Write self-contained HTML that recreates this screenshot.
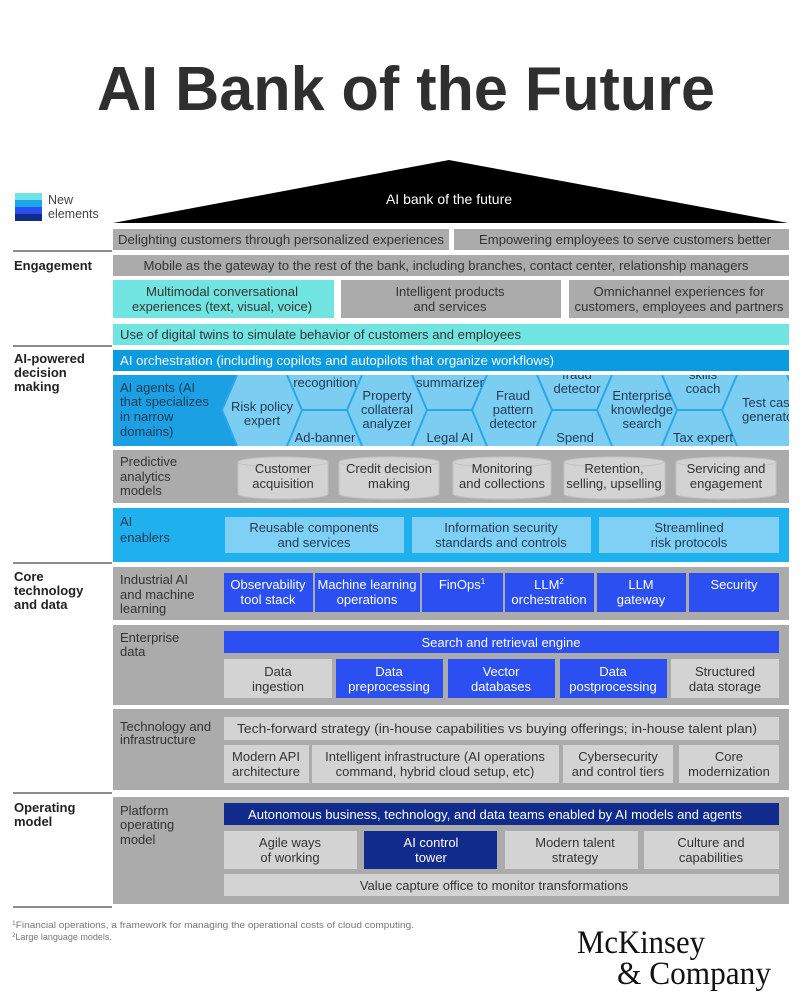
<!DOCTYPE html>
<html><head><meta charset="utf-8"><style>
html,body{margin:0;padding:0;background:#fff;width:800px;height:1000px;overflow:hidden}
svg{display:block}
text{font-family:"Liberation Sans",Arial,sans-serif}
</style></head><body>
<svg width="800" height="1000" viewBox="0 0 800 1000" xmlns="http://www.w3.org/2000/svg">
<defs><clipPath id="agc"><rect x="113" y="375" width="676" height="71"/></clipPath></defs>
<!-- Title -->
<text x="406" y="110" text-anchor="middle" font-size="62" font-weight="bold" fill="#2f2f2f" textLength="618" lengthAdjust="spacingAndGlyphs">AI Bank of the Future</text>
<!-- legend -->
<rect x="15" y="193" width="27" height="7" fill="#72e4e6"/>
<rect x="15" y="200" width="27" height="7" fill="#1aa6e8"/>
<rect x="15" y="207" width="27" height="7" fill="#2a4ff0"/>
<rect x="15" y="214" width="27" height="7" fill="#112b8c"/>
<text x="48" y="204" font-size="12.5" fill="#444">New</text>
<text x="48" y="218" font-size="12.5" fill="#444">elements</text>
<!-- roof -->
<polygon points="113,223 449,160 788,223" fill="#000"/>
<text x="449" y="204" text-anchor="middle" font-size="14" fill="#fff">AI bank of the future</text>
<!-- dividers -->
<g stroke="#666" stroke-width="1.5">
<line x1="13" y1="251" x2="112" y2="251"/><line x1="13" y1="346" x2="112" y2="346"/>
<line x1="13" y1="563" x2="112" y2="563"/><line x1="13" y1="793" x2="112" y2="793"/>
<line x1="13" y1="907" x2="112" y2="907"/></g>
<g font-size="13" font-weight="bold" fill="#222">
<text x="14" y="270">Engagement</text>
<text x="14" y="363">AI-powered</text><text x="14" y="377">decision</text><text x="14" y="391">making</text>
<text x="14" y="581">Core</text><text x="14" y="595">technology</text><text x="14" y="609">and data</text>
<text x="14" y="812">Operating</text><text x="14" y="826">model</text>
</g>
<g font-size="13" fill="#333" text-anchor="middle">
<!-- row1 -->
<rect x="113" y="229" width="336" height="21" fill="#ababab"/>
<rect x="454" y="229" width="335" height="21" fill="#ababab"/>
<text x="281" y="244" textLength="326" lengthAdjust="spacingAndGlyphs">Delighting customers through personalized experiences</text>
<text x="625" y="244" textLength="292" lengthAdjust="spacingAndGlyphs">Empowering employees to serve customers better</text>
<!-- row2 -->
<rect x="113" y="255" width="676" height="21" fill="#ababab"/>
<text x="446" y="270" textLength="605" lengthAdjust="spacingAndGlyphs">Mobile as the gateway to the rest of the bank, including branches, contact center, relationship managers</text>
<!-- row3 -->
<rect x="113" y="280" width="221" height="38" fill="#70e4e0"/>
<rect x="341" y="280" width="220" height="38" fill="#ababab"/>
<rect x="569" y="280" width="220" height="38" fill="#ababab"/>
<text x="222" y="296" textLength="152" lengthAdjust="spacingAndGlyphs">Multimodal conversational</text>
<text x="222" y="311" textLength="180" lengthAdjust="spacingAndGlyphs">experiences (text, visual, voice)</text>
<text x="450" y="296">Intelligent products</text>
<text x="450" y="311">and services</text>
<text x="679" y="296" textLength="171" lengthAdjust="spacingAndGlyphs">Omnichannel experiences for</text>
<text x="679" y="311" textLength="209" lengthAdjust="spacingAndGlyphs">customers, employees and partners</text>
<!-- row4 -->
<rect x="113" y="324" width="676" height="21" fill="#70e4e0"/>
<text x="120" y="339" text-anchor="start" textLength="401" lengthAdjust="spacingAndGlyphs">Use of digital twins to simulate behavior of customers and employees</text>
<!-- row5 -->
<rect x="113" y="350" width="676" height="21" fill="#0a9be0"/>
<text x="120" y="365" text-anchor="start" fill="#fff" textLength="434" lengthAdjust="spacingAndGlyphs">AI orchestration (including copilots and autopilots that organize workflows)</text>
</g>
<!-- row6 agents -->
<rect x="113" y="375" width="676" height="71" fill="#7ccdf2"/>
<polygon points="113,375 237,375 222,410 237,446 113,446" fill="#1aa0e3"/>
<g clip-path="url(#agc)" stroke="#2aa7e8" stroke-width="2" fill="none">
<path d="M237,375 L222,410 L237,446 M287,375 L302,410 L287,446 M302,410 L347,410
M362,375 L347,410 L362,446 M412,375 L427,410 L412,446 M427,410 L472,410
M487,375 L472,410 L487,446 M537,375 L552,410 L537,446 M552,410 L597,410
M612,375 L597,410 L612,446 M662,375 L677,410 L662,446 M677,410 L722,410
M737,375 L722,410 L737,446 M787,375 L802,410"/>
</g>
<g clip-path="url(#agc)" font-size="13" fill="#1d3a55" text-anchor="middle">
<text x="262" y="411">Risk policy</text><text x="262" y="425">expert</text>
<text x="325" y="387">recognition</text><text x="325" y="442">Ad-banner</text>
<text x="387" y="400">Property</text><text x="387" y="414">collateral</text><text x="387" y="428">analyzer</text>
<text x="450" y="387">summarizer</text><text x="450" y="442">Legal AI</text>
<text x="513" y="400">Fraud</text><text x="513" y="414">pattern</text><text x="513" y="428">detector</text>
<text x="577" y="379">fraud</text><text x="577" y="393">detector</text><text x="575" y="442">Spend</text>
<text x="642" y="400">Enterprise</text><text x="642" y="414">knowledge</text><text x="642" y="428">search</text>
<text x="703" y="379">skills</text><text x="703" y="393">coach</text><text x="703" y="442">Tax expert</text>
<text x="742" y="407" text-anchor="start">Test case</text><text x="742" y="421" text-anchor="start">generator</text>
</g>
<g font-size="13" fill="#1d3a55">
<text x="120" y="392">AI agents (AI</text><text x="120" y="406">that specializes</text><text x="120" y="421">in narrow</text><text x="120" y="436">domains)</text>
</g>
<!-- row7 predictive -->
<rect x="113" y="450" width="676" height="53" fill="#ababab"/>
<g fill="#d3d3d3" stroke="#c2c2c2" stroke-width="1">
<path d="M238,462 L238,494 A45,5 0 0 0 328,494 L328,462 Z"/><ellipse cx="283" cy="462" rx="45" ry="5"/>
<path d="M339,462 L339,494 A50,5 0 0 0 439,494 L439,462 Z"/><ellipse cx="389" cy="462" rx="50" ry="5"/>
<path d="M453,462 L453,494 A49,5 0 0 0 551,494 L551,462 Z"/><ellipse cx="502" cy="462" rx="49" ry="5"/>
<path d="M564,462 L564,494 A50,5 0 0 0 665,494 L665,462 Z"/><ellipse cx="614" cy="462" rx="50" ry="5"/>
<path d="M676,462 L676,494 A50,5 0 0 0 776,494 L776,462 Z"/><ellipse cx="726" cy="462" rx="50" ry="5"/>
</g>
<g font-size="13" fill="#333" text-anchor="middle">
<text x="283" y="473">Customer</text><text x="283" y="488">acquisition</text>
<text x="389" y="473">Credit decision</text><text x="389" y="488">making</text>
<text x="502" y="473">Monitoring</text><text x="502" y="488">and collections</text>
<text x="614" y="473">Retention,</text><text x="614" y="488">selling, upselling</text>
<text x="726" y="473">Servicing and</text><text x="726" y="488">engagement</text>
</g>
<g font-size="13" fill="#333"><text x="120" y="466">Predictive</text><text x="120" y="481">analytics</text><text x="120" y="495">models</text></g>
<!-- row8 enablers -->
<rect x="113" y="508" width="676" height="54" fill="#1fb1ee"/>
<rect x="225" y="517" width="179" height="36" fill="#7fd0f4"/>
<rect x="412" y="517" width="179" height="36" fill="#7fd0f4"/>
<rect x="599" y="517" width="180" height="36" fill="#7fd0f4"/>
<g font-size="13" fill="#1d3a55" text-anchor="middle">
<text x="314" y="532">Reusable components</text><text x="314" y="547">and services</text>
<text x="501" y="532">Information security</text><text x="501" y="547">standards and controls</text>
<text x="689" y="532">Streamlined</text><text x="689" y="547">risk protocols</text>
</g>
<g font-size="13" fill="#1d3a55"><text x="120" y="526">AI</text><text x="120" y="542">enablers</text></g>
<!-- row9 industrial -->
<rect x="113" y="567" width="676" height="53" fill="#ababab"/>
<g fill="#2b4ff0">
<rect x="224" y="573" width="89" height="39"/><rect x="315" y="573" width="105" height="39"/>
<rect x="422" y="573" width="81" height="39"/><rect x="505" y="573" width="89" height="39"/>
<rect x="597" y="573" width="89" height="39"/><rect x="689" y="573" width="90" height="39"/>
</g>
<g font-size="13" fill="#fff" text-anchor="middle">
<text x="268" y="589">Observability</text><text x="268" y="604">tool stack</text>
<text x="367" y="589">Machine learning</text><text x="367" y="604">operations</text>
<text x="462" y="589">FinOps<tspan font-size="8" dy="-5">1</tspan></text>
<text x="549" y="589">LLM<tspan font-size="8" dy="-5">2</tspan></text><text x="549" y="604">orchestration</text>
<text x="641" y="589">LLM</text><text x="641" y="604">gateway</text>
<text x="734" y="589">Security</text>
</g>
<g font-size="13" fill="#333"><text x="120" y="584">Industrial AI</text><text x="120" y="599">and machine</text><text x="120" y="613">learning</text></g>
<!-- row10 enterprise -->
<rect x="113" y="625" width="676" height="80" fill="#ababab"/>
<rect x="224" y="631" width="555" height="22" fill="#2b4ff0"/>
<text x="501" y="647" font-size="13" fill="#fff" text-anchor="middle">Search and retrieval engine</text>
<rect x="224" y="659" width="108" height="39" fill="#d3d3d3"/>
<rect x="336" y="659" width="107" height="39" fill="#2b4ff0"/>
<rect x="448" y="659" width="107" height="39" fill="#2b4ff0"/>
<rect x="560" y="659" width="107" height="39" fill="#2b4ff0"/>
<rect x="671" y="659" width="108" height="39" fill="#d3d3d3"/>
<g font-size="13" text-anchor="middle">
<text x="278" y="676" fill="#333">Data</text><text x="278" y="691" fill="#333">ingestion</text>
<text x="389" y="676" fill="#fff">Data</text><text x="389" y="691" fill="#fff">preprocessing</text>
<text x="501" y="676" fill="#fff">Vector</text><text x="501" y="691" fill="#fff">databases</text>
<text x="613" y="676" fill="#fff">Data</text><text x="613" y="691" fill="#fff">postprocessing</text>
<text x="725" y="676" fill="#333">Structured</text><text x="725" y="691" fill="#333">data storage</text>
</g>
<g font-size="13" fill="#333"><text x="120" y="642">Enterprise</text><text x="120" y="656">data</text></g>
<!-- row11 tech -->
<rect x="113" y="709" width="676" height="81" fill="#ababab"/>
<rect x="224" y="717" width="555" height="23" fill="#d3d3d3"/>
<text x="497" y="733" font-size="13" fill="#333" text-anchor="middle" textLength="520" lengthAdjust="spacingAndGlyphs">Tech-forward strategy (in-house capabilities vs buying offerings; in-house talent plan)</text>
<rect x="224" y="745" width="85" height="38" fill="#d3d3d3"/>
<rect x="312" y="745" width="247" height="38" fill="#d3d3d3"/>
<rect x="563" y="745" width="110" height="38" fill="#d3d3d3"/>
<rect x="679" y="745" width="100" height="38" fill="#d3d3d3"/>
<g font-size="13" fill="#333" text-anchor="middle">
<text x="266" y="761">Modern API</text><text x="266" y="776">architecture</text>
<text x="435" y="761">Intelligent infrastructure (AI operations</text><text x="435" y="776">command, hybrid cloud setup, etc)</text>
<text x="618" y="761">Cybersecurity</text><text x="618" y="776">and control tiers</text>
<text x="729" y="761">Core</text><text x="729" y="776">modernization</text>
</g>
<g font-size="13" fill="#333"><text x="120" y="731">Technology and</text><text x="120" y="744">infrastructure</text></g>
<!-- row12 platform -->
<rect x="113" y="797" width="676" height="107" fill="#ababab"/>
<rect x="224" y="803" width="555" height="22" fill="#112b8c"/>
<text x="495" y="819" font-size="13" fill="#fff" text-anchor="middle" textLength="494" lengthAdjust="spacingAndGlyphs">Autonomous business, technology, and data teams enabled by AI models and agents</text>
<rect x="224" y="831" width="133" height="38" fill="#d3d3d3"/>
<rect x="364" y="831" width="133" height="38" fill="#112b8c"/>
<rect x="505" y="831" width="133" height="38" fill="#d3d3d3"/>
<rect x="644" y="831" width="135" height="38" fill="#d3d3d3"/>
<g font-size="13" text-anchor="middle">
<text x="290" y="847" fill="#333">Agile ways</text><text x="290" y="862" fill="#333">of working</text>
<text x="431" y="847" fill="#fff">AI control</text><text x="431" y="862" fill="#fff">tower</text>
<text x="575" y="847" fill="#333">Modern talent</text><text x="575" y="862" fill="#333">strategy</text>
<text x="711" y="847" fill="#333">Culture and</text><text x="711" y="862" fill="#333">capabilities</text>
</g>
<rect x="224" y="874" width="555" height="22" fill="#d3d3d3"/>
<text x="494" y="890" font-size="13" fill="#333" text-anchor="middle">Value capture office to monitor transformations</text>
<g font-size="13" fill="#333"><text x="120" y="815">Platform</text><text x="120" y="829">operating</text><text x="120" y="844">model</text></g>
<!-- footnotes -->
<g font-size="9" fill="#777">
<text x="12" y="928" textLength="402" lengthAdjust="spacingAndGlyphs"><tspan font-size="6" dy="-3">1</tspan><tspan dy="3">Financial operations, a framework for managing the operational costs of cloud computing.</tspan></text>
<text x="12" y="940"><tspan font-size="6" dy="-3">2</tspan><tspan dy="3">Large language models.</tspan></text>
</g>
<!-- logo -->
<text x="577" y="953" font-family="Liberation Serif,serif" font-size="33" fill="#111" textLength="128" lengthAdjust="spacingAndGlyphs" style="font-family:'Liberation Serif',serif">McKinsey</text>
<text x="617" y="984" font-family="Liberation Serif,serif" font-size="33" fill="#111" textLength="154" lengthAdjust="spacingAndGlyphs" style="font-family:'Liberation Serif',serif">&amp; Company</text>
</svg>
</body></html>
